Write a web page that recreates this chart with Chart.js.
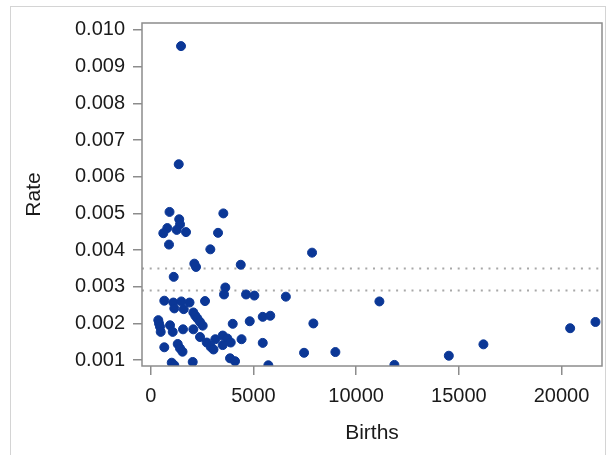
<!doctype html>
<html lang="en">
  <head>
    <title>Rate vs Births</title>
    <style>
      html, body {
        margin: 0;
        padding: 0;
        background: #ffffff;
      }

      .page-frame {
        position: absolute;
        left: 10px;
        top: 6px;
        width: 594px;
        height: 470px;
        border: 1px solid #d4d4d4;
      }

      .chart-box {
        position: absolute;
        left: 0;
        top: 0;
        width: 610px;
        height: 455px;
      }
    </style>
  </head>

  <body>
    <div class="page-frame"></div>
    <div class="chart-box">
      <canvas id="scatterChart" width="610" height="455"></canvas>
    </div>

    <script src="https://cdn.jsdelivr.net/npm/chart.js@4/dist/chart.umd.min.js"></script>
    <script>
      // Births per group (x) and the matching rate (y)
      const births = [
        1476, 1364, 916, 3536, 1388, 1427, 808, 614, 1266, 1719,
        3278, 891, 2903, 7855, 2123, 2206, 4383, 1120, 3633, 3570,
        4641, 5045, 6579, 662, 1101, 1490, 1890, 2644, 1149, 1607,
        2075, 2172, 2269, 2401, 2532, 370, 404, 453, 487, 940,
        1071, 1573, 2075, 3993, 4821, 5454, 5820, 7919, 2401, 2727,
        2922, 3058, 3146, 3506, 3730, 3896, 3506, 4422, 5454, 662,
        1315, 1427, 1549, 2045, 1023, 1149, 3862, 4105, 5727, 7466,
        8990, 11133, 11863, 14513, 16198, 20420, 21652,
      ];
      const rate = [
        0.00956, 0.00634, 0.00504, 0.005, 0.00484, 0.0047, 0.0046, 0.00446, 0.00455, 0.00449,
        0.00447, 0.00415, 0.00402, 0.00393, 0.00363, 0.00354, 0.0036, 0.00327, 0.00298, 0.00279,
        0.00279, 0.00276, 0.00273, 0.00262, 0.00257, 0.0026, 0.00257, 0.00261, 0.00241, 0.00239,
        0.0023, 0.00221, 0.00214, 0.00204, 0.00194, 0.00209, 0.002, 0.00191, 0.00177, 0.00195,
        0.00177, 0.00184, 0.00184, 0.00199, 0.00206, 0.00218, 0.00221, 0.002, 0.00163, 0.00148,
        0.00136, 0.00129, 0.00157, 0.00167, 0.00159, 0.00148, 0.00141, 0.00157, 0.00147, 0.00135,
        0.00144, 0.00132, 0.00123, 0.00095, 0.00093, 0.00086, 0.00105, 0.00097, 0.00086, 0.0012,
        0.00122, 0.0026, 0.00087, 0.00112, 0.00143, 0.00187, 0.00204,
      ];

      // Reference lines (dotted)
      const refLines = [0.0035, 0.0029];

      // Axis ticks and ranges
      const xTicks = [0, 5000, 10000, 15000, 20000];
      const yTicks = [0.001, 0.002, 0.003, 0.004, 0.005, 0.006, 0.007, 0.008, 0.009, 0.01];
      const xRange = [-424, 21970];
      const yRange = [0.00084, 0.01019];

      const axisColor = "#8c8c8c";
      const textColor = "#1a1a1a";
      const fontFamily = "'Liberation Sans', Arial, Helvetica, sans-serif";

      const points = births.map((b, i) => ({ x: b, y: rate[i] }));

      const refDatasets = refLines.map((v) => ({
        type: "line",
        data: [
          { x: xRange[0], y: v },
          { x: xRange[1], y: v },
        ],
        borderColor: "#a8a8a8",
        borderWidth: 2,
        borderDash: [2, 5.7],
        pointRadius: 0,
        fill: false,
        clip: 0,
        order: 2,
      }));

      // Frame around the plot area
      const framePlugin = {
        id: "plotFrame",
        afterDraw(chart) {
          const { ctx, chartArea } = chart;
          ctx.save();
          ctx.strokeStyle = axisColor;
          ctx.lineWidth = 1.5;
          ctx.strokeRect(
            chartArea.left,
            chartArea.top,
            chartArea.right - chartArea.left,
            chartArea.bottom - chartArea.top,
          );
          ctx.restore();
        },
      };

      const ctx = document.getElementById("scatterChart").getContext("2d");
      new Chart(ctx, {
        type: "scatter",
        data: {
          datasets: [
            {
              label: "Rate",
              data: points,
              backgroundColor: "#0b3796",
              borderColor: "#0b3796",
              pointRadius: 4.5,
              pointHoverRadius: 4.5,
              clip: 0,
              order: 1,
            },
            ...refDatasets,
          ],
        },
        options: {
          responsive: false,
          animation: false,
          layout: {
            padding: { top: 23, right: 8, left: 0, bottom: 0 },
          },
          plugins: {
            legend: { display: false },
            tooltip: { enabled: false },
          },
          scales: {
            x: {
              type: "linear",
              position: "bottom",
              min: xRange[0],
              max: xRange[1],
              afterBuildTicks: (scale) => {
                scale.ticks = xTicks.map((v) => ({ value: v }));
              },
              afterFit: (scale) => {
                scale.height = 89;
              },
              grid: {
                drawOnChartArea: false,
                drawTicks: true,
                tickLength: 9,
                color: axisColor,
                lineWidth: 1.5,
              },
              border: { display: false },
              ticks: {
                color: textColor,
                font: { family: fontFamily, size: 20 },
                padding: 9,
                maxRotation: 0,
                callback: (v) => String(v),
              },
              title: {
                display: true,
                text: "Births",
                color: textColor,
                font: { family: fontFamily, size: 21 },
                padding: { top: 0, bottom: 9 },
              },
            },
            y: {
              type: "linear",
              min: yRange[0],
              max: yRange[1],
              afterBuildTicks: (scale) => {
                scale.ticks = yTicks.map((v) => ({ value: v }));
              },
              afterFit: (scale) => {
                scale.width = 142;
              },
              grid: {
                drawOnChartArea: false,
                drawTicks: true,
                tickLength: 9,
                color: axisColor,
                lineWidth: 1.5,
              },
              border: { display: false },
              ticks: {
                color: textColor,
                font: { family: fontFamily, size: 20 },
                padding: 8,
                callback: (v) => Number(v).toFixed(3),
              },
              title: {
                display: true,
                text: "Rate",
                color: textColor,
                font: { family: fontFamily, size: 21 },
                padding: { top: 22, bottom: 0 },
              },
            },
          },
        },
        plugins: [framePlugin],
      });
    </script>
  </body>
</html>
